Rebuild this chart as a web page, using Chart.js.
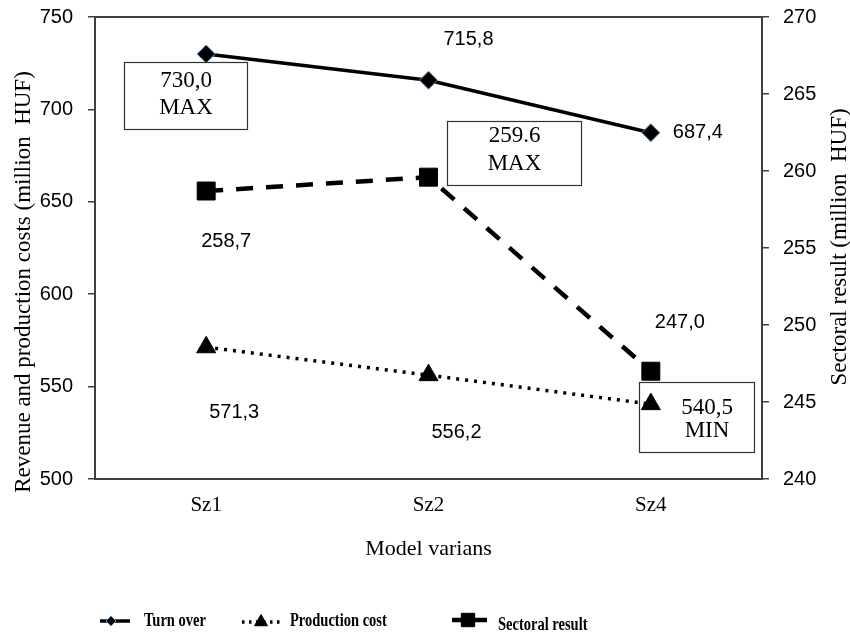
<!DOCTYPE html>
<html><head><meta charset="utf-8">
<script src="https://cdn.jsdelivr.net/npm/chart.js@4/dist/chart.umd.min.js"></script>
<style>html,body{margin:0;padding:0;background:#fff}canvas{display:block}</style>
</head><body>
<canvas id="c" width="850" height="634"></canvas>
<script>
// ---- data ----
const categories = ['Sz1', 'Sz2', 'Sz4'];
const turnOver = [730.0, 715.8, 687.4];
const productionCost = [571.3, 556.2, 540.5];
const sectoralResult = [258.7, 259.6, 247.0];
const turnOverLabels = ['730,0', '715,8', '687,4'];
const productionCostLabels = ['571,3', '556,2', '540,5'];
const sectoralResultLabels = ['258,7', '259.6', '247,0'];
const leftAxisTicks = [500, 550, 600, 650, 700, 750];
const rightAxisTicks = [240, 245, 250, 255, 260, 265, 270];
const seriesNames = ['Turn over', 'Production cost', 'Sectoral result'];
const xTitle = 'Model varians';
const leftTitle = 'Revenue and production costs (million  HUF)';
const rightTitle = 'Sectoral result (million  HUF)';

// ---- label placement (styles, relative to points) ----
const SERIF = '"Liberation Serif", "Times New Roman", serif';
const SANS = '"Liberation Sans", Arial, sans-serif';
const AX = '#404040';
const labelLayout = [
  [ {box: [-82, 8, 123, 67], extra: 'MAX', lineDy: [18, 45]}, {dx: 40, dy: -41}, {dx: 47, dy: 0} ],
  [ {dx: 28, dy: 65}, {dx: 28, dy: 57}, {box: [-12, -22, 115, 70], extra: 'MIN', lineDy: [25, 48], textDx: 10} ],
  [ {dx: 20, dy: 50}, {box: [18, -56, 134, 64], extra: 'MAX', lineDy: [14, 42]}, {dx: 29, dy: -49} ]
];
const labelTexts = [turnOverLabels, productionCostLabels, sectoralResultLabels];

function pointPos(chart, di, pi) {
  const el = chart.getDatasetMeta(di).data[pi];
  return {x: el.x, y: el.y};
}

const decor = {
  id: 'decor',
  afterDatasetDraw(chart, args) {
    if (args.index !== 2) return;
    const ctx = chart.ctx;
    ctx.save();
    labelLayout.forEach((row, di) => row.forEach((lay, pi) => {
      if (!lay.box) return;
      const p = pointPos(chart, di, pi);
      const [x0, y0, w, h] = lay.box;
      const bx = Math.round(p.x + x0) + 0.5, by = Math.round(p.y + y0) + 0.5;
      ctx.fillStyle = '#fff';
      ctx.fillRect(bx, by, w, h);
      ctx.strokeStyle = '#333';
      ctx.lineWidth = 1.2;
      ctx.strokeRect(bx, by, w, h);
      ctx.fillStyle = '#000';
      ctx.font = '23px ' + SERIF;
      ctx.textAlign = 'center';
      ctx.textBaseline = 'middle';
      const cx = bx + w / 2 + (lay.textDx || 0);
      ctx.fillText(labelTexts[di][pi], cx, by + lay.lineDy[0]);
      ctx.fillText(lay.extra, cx, by + lay.lineDy[1]);
    }));
    ctx.restore();
  },
  afterDraw(chart) {
    const ctx = chart.ctx;
    const a = chart.chartArea;
    ctx.save();
    ctx.strokeStyle = AX;
    ctx.lineWidth = 2;
    ctx.beginPath();
    ctx.moveTo(a.left, a.top);
    ctx.lineTo(a.right, a.top);
    ctx.stroke();
    ctx.fillStyle = '#000';
    ctx.font = '20px ' + SANS;
    ctx.textAlign = 'center';
    ctx.textBaseline = 'middle';
    labelLayout.forEach((row, di) => row.forEach((lay, pi) => {
      if (lay.box) return;
      const p = pointPos(chart, di, pi);
      ctx.fillText(labelTexts[di][pi], p.x + lay.dx, p.y + lay.dy);
    }));
    ctx.font = '22px ' + SERIF;
    ctx.fillText(xTitle, (a.left + a.right) / 2, 549);
    ctx.save();
    ctx.translate(24, 282);
    ctx.rotate(-Math.PI / 2);
    ctx.font = '23px ' + SERIF;
    ctx.fillText(leftTitle, 0, 0);
    ctx.restore();
    ctx.save();
    ctx.translate(840, 247);
    ctx.rotate(-Math.PI / 2);
    ctx.font = '23px ' + SERIF;
    ctx.fillText(rightTitle, 0, 0);
    ctx.restore();
    const ds = chart.data.datasets;
    const items = [
      {x0: 100, x1: 130, mx: 111, y: 621, tx: 144, ty: 621, r: 5},
      {x0: 242, x1: 280, mx: 261, y: 622, tx: 290, ty: 621, r: 7.5},
      {x0: 452, x1: 487, mx: 468, y: 620, tx: 498, ty: 625, r: 9.5}
    ];
    items.forEach((it, i) => {
      const d = ds[i];
      ctx.save();
      ctx.strokeStyle = '#000';
      ctx.lineWidth = d.borderWidth;
      ctx.setLineDash(i === 1 ? [2.5, 4.5] : []);
      ctx.beginPath();
      ctx.moveTo(it.x0, it.y);
      ctx.lineTo(it.x1, it.y);
      ctx.stroke();
      ctx.setLineDash([]);
      ctx.fillStyle = '#000';
      ctx.strokeStyle = d.pointBorderColor;
      ctx.lineWidth = 1;
      Chart.helpers.drawPoint(ctx, {pointStyle: d.pointStyle, radius: it.r, borderWidth: 1}, it.mx, it.y);
      ctx.restore();
      ctx.save();
      ctx.translate(it.tx, it.ty);
      ctx.scale(1, 1.25);
      ctx.font = 'bold 14.5px ' + SERIF;
      ctx.textAlign = 'left';
      ctx.textBaseline = 'middle';
      ctx.fillStyle = '#000';
      ctx.fillText(seriesNames[i], 0, 0);
      ctx.restore();
    });
    ctx.restore();
  }
};

function fitVertical(w) {
  return function (s) { s.width = w; s.paddingTop = 0; s.paddingBottom = 0; };
}

new Chart(document.getElementById('c'), {
  type: 'line',
  data: {
    labels: categories,
    datasets: [
      {
        label: seriesNames[0], data: turnOver, yAxisID: 'y', order: 2,
        borderColor: '#000', borderWidth: 3.5,
        pointStyle: 'rectRot', pointRadius: 9, pointBackgroundColor: '#000',
        pointBorderColor: '#5b8cc4', pointBorderWidth: 1
      },
      {
        label: seriesNames[1], data: productionCost, yAxisID: 'y', order: 0,
        borderColor: '#000', borderWidth: 3.5, borderDash: [3, 6],
        pointStyle: 'triangle', pointRadius: 11, pointBackgroundColor: '#000',
        pointBorderColor: '#000', pointBorderWidth: 1
      },
      {
        label: seriesNames[2], data: sectoralResult, yAxisID: 'y1', order: 1,
        borderColor: '#000', borderWidth: 4.5, borderDash: [17, 13],
        pointStyle: 'rect', pointRadius: 12.7, pointBackgroundColor: '#000',
        pointBorderColor: '#000', pointBorderWidth: 1
      }
    ]
  },
  options: {
    responsive: false,
    animation: false,
    devicePixelRatio: 1,
    layout: {padding: {top: 17, left: 0, right: 0, bottom: 0}},
    plugins: {legend: {display: false}, tooltip: {enabled: false}},
    elements: {line: {tension: 0}},
    scales: {
      x: {
        type: 'category', offset: true,
        grid: {display: false, drawTicks: false, tickLength: 0},
        border: {display: true, color: AX, width: 2},
        ticks: {color: '#000', font: {family: SERIF, size: 21}, padding: 14},
        afterFit(s) { s.height = 155; s.paddingLeft = 0; s.paddingRight = 0; }
      },
      y: {
        position: 'left', min: leftAxisTicks[0], max: leftAxisTicks[leftAxisTicks.length - 1],
        afterBuildTicks(s) { s.ticks = leftAxisTicks.map(v => ({value: v})); },
        grid: {drawOnChartArea: false, drawTicks: true, tickLength: 7, color: AX, lineWidth: 1.5},
        border: {display: true, color: AX, width: 2},
        ticks: {color: '#000', font: {family: SANS, size: 20}, padding: 15},
        afterFit: fitVertical(95)
      },
      y1: {
        position: 'right', min: rightAxisTicks[0], max: rightAxisTicks[rightAxisTicks.length - 1],
        afterBuildTicks(s) { s.ticks = rightAxisTicks.map(v => ({value: v})); },
        grid: {drawOnChartArea: false, drawTicks: true, tickLength: 7, color: AX, lineWidth: 1.5},
        border: {display: true, color: AX, width: 2},
        ticks: {color: '#000', font: {family: SANS, size: 20}, padding: 14},
        afterFit: fitVertical(88)
      }
    }
  },
  plugins: [decor]
});
</script>
</body></html>
